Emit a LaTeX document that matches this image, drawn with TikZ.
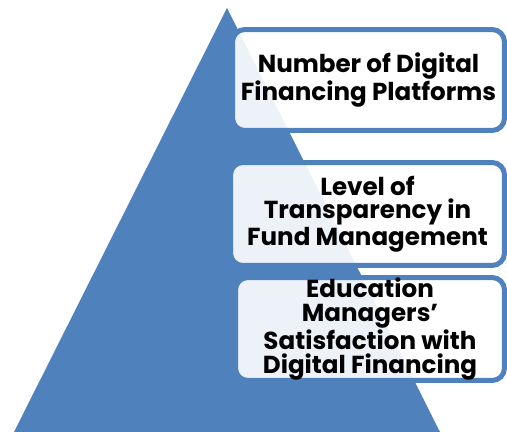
\documentclass[tikz,border=0pt]{standalone}
\usepackage{fontspec}
\setmainfont{Poppins}
\definecolor{pyrblue}{HTML}{4F81BD}
\tikzset{
  level/.style={draw=pyrblue, line width=2.85pt, fill=white, fill opacity=0.9,
    text opacity=1, rounded corners=7pt, align=center, inner sep=0pt,
    font=\bfseries\fontsize{14}{13.6}\selectfont}
}
\begin{document}
\begin{tikzpicture}[x=0.02cm, y=-0.02cm]
  \useasboundingbox (0,0) rectangle (507,432);

  % Pyramide
  \begin{scope}
    \clip (0,0) rectangle (507,432);
    \fill[pyrblue] (227,8) -- (440,432) -- (14,432) -- cycle;
  \end{scope}

  % Ebenen
  \node[level, minimum width=5.44cm, minimum height=2.02cm] (platforms) at (368.5,80)
    {Number of Digital\\Financing Platforms};
  \node[level, minimum width=5.48cm, minimum height=2.06cm] (transparency) at (367.5,214)
    {Level of\\Transparency in\\Fund Management};
  \node[level, minimum width=5.38cm, minimum height=2.06cm] (satisfaction) at (370,329)
    {Education\\Managers’\\Satisfaction with\\Digital Financing};
\end{tikzpicture}
\end{document}
